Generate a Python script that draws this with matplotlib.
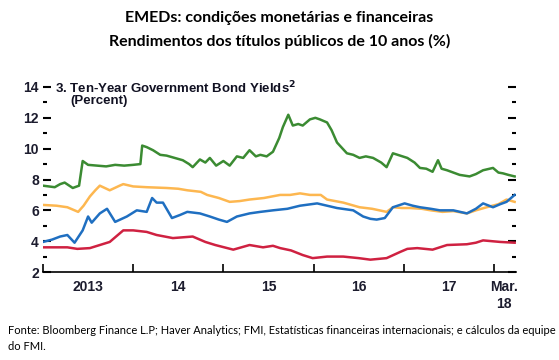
import matplotlib
matplotlib.use("Agg")
import matplotlib.pyplot as plt
from matplotlib.ticker import FixedLocator, NullFormatter, FixedFormatter

# decimal years and yields (percent)
green_t = [2013.00, 2013.13, 2013.19, 2013.24, 2013.33, 2013.40, 2013.44, 2013.50,
           2013.60, 2013.70, 2013.80, 2013.90, 2014.00, 2014.08, 2014.10, 2014.15,
           2014.22, 2014.30, 2014.37, 2014.46, 2014.55, 2014.62, 2014.66, 2014.74,
           2014.80, 2014.85, 2014.92, 2015.00, 2015.07, 2015.15, 2015.22, 2015.29,
           2015.36, 2015.41, 2015.48, 2015.55, 2015.62, 2015.66, 2015.72, 2015.77,
           2015.83, 2015.88, 2015.96, 2016.02, 2016.07, 2016.15, 2016.20, 2016.26,
           2016.37, 2016.44, 2016.51, 2016.58, 2016.66, 2016.75, 2016.81, 2016.88,
           2016.96, 2017.04, 2017.12, 2017.18, 2017.25, 2017.32, 2017.38, 2017.42,
           2017.48, 2017.55, 2017.62, 2017.73, 2017.80, 2017.88, 2017.99, 2018.05,
           2018.10, 2018.16, 2018.23]
green_v = [7.6, 7.5, 7.7, 7.8, 7.45, 7.6, 9.2, 8.95,
           8.9, 8.85, 8.95, 8.9, 8.95, 9.0, 10.2, 10.1,
           9.9, 9.6, 9.55, 9.4, 9.25, 9.0, 8.8, 9.3,
           9.1, 9.4, 8.9, 9.2, 8.9, 9.5, 9.4, 9.9,
           9.5, 9.6, 9.5, 9.8, 10.7, 11.4, 12.2, 11.5,
           11.6, 11.5, 11.9, 12.0, 11.9, 11.7, 11.2, 10.4,
           9.7, 9.6, 9.4, 9.5, 9.4, 9.1, 8.8, 9.7,
           9.55, 9.4, 9.1, 8.75, 8.7, 8.5, 9.25, 8.7,
           8.6, 8.45, 8.3, 8.2, 8.35, 8.6, 8.75, 8.45,
           8.4, 8.3, 8.2]

orange_t = [2013.00, 2013.15, 2013.27, 2013.39, 2013.45, 2013.52, 2013.58, 2013.63,
            2013.74, 2013.85, 2013.89, 2014.00, 2014.15, 2014.37, 2014.50, 2014.60,
            2014.75, 2014.82, 2014.95, 2015.07, 2015.18, 2015.29, 2015.45, 2015.63,
            2015.74, 2015.85, 2015.96, 2016.08, 2016.15, 2016.33, 2016.51, 2016.65,
            2016.81, 2016.88, 2016.98, 2017.07, 2017.20, 2017.30, 2017.43, 2017.55,
            2017.70, 2017.80, 2017.92, 2018.05, 2018.14, 2018.23]
orange_v = [6.35, 6.3, 6.2, 5.9, 6.3, 6.9, 7.3, 7.6,
            7.3, 7.6, 7.7, 7.55, 7.5, 7.45, 7.4, 7.3,
            7.2, 7.0, 6.8, 6.55, 6.6, 6.7, 6.8, 7.0,
            7.0, 7.1, 7.0, 7.0, 6.7, 6.5, 6.2, 6.1,
            5.9, 6.2, 6.15, 6.15, 6.1, 6.0, 5.9, 5.95,
            5.8, 6.0, 6.2, 6.4, 6.7, 6.55]

blue_t = [2013.00, 2013.10, 2013.19, 2013.27, 2013.35, 2013.44, 2013.50, 2013.54,
          2013.63, 2013.71, 2013.80, 2013.93, 2014.04, 2014.15, 2014.21, 2014.26,
          2014.33, 2014.43, 2014.52, 2014.60, 2014.74, 2014.85, 2014.95, 2015.04,
          2015.15, 2015.29, 2015.41, 2015.55, 2015.71, 2015.85, 2016.04, 2016.15,
          2016.26, 2016.44, 2016.55, 2016.63, 2016.70, 2016.79, 2016.88, 2017.01,
          2017.10, 2017.18, 2017.30, 2017.40, 2017.55, 2017.70, 2017.80, 2017.88,
          2017.99, 2018.07, 2018.14, 2018.23]
blue_v = [3.95, 4.1, 4.3, 4.4, 3.9, 4.7, 5.6, 5.2,
          5.8, 6.1, 5.25, 5.6, 6.0, 5.9, 6.8, 6.5,
          6.5, 5.5, 5.7, 5.9, 5.8, 5.6, 5.4, 5.25,
          5.6, 5.8, 5.9, 6.0, 6.1, 6.3, 6.45, 6.3,
          6.15, 6.0, 5.6, 5.45, 5.4, 5.5, 6.2, 6.45,
          6.3, 6.2, 6.1, 6.0, 6.0, 5.8, 6.1, 6.45,
          6.2, 6.4, 6.55, 7.0]

red_t = [2013.00, 2013.27, 2013.38, 2013.52, 2013.74, 2013.89, 2014.00, 2014.15,
         2014.26, 2014.44, 2014.66, 2014.80, 2014.91, 2015.11, 2015.29, 2015.44,
         2015.55, 2015.63, 2015.75, 2015.88, 2015.99, 2016.15, 2016.33, 2016.50,
         2016.63, 2016.81, 2016.96, 2017.04, 2017.15, 2017.32, 2017.48, 2017.70,
         2017.80, 2017.88, 2018.07, 2018.23]
red_v = [3.6, 3.6, 3.5, 3.55, 3.95, 4.7, 4.7, 4.6,
         4.4, 4.2, 4.3, 3.95, 3.75, 3.45, 3.75, 3.6,
         3.7, 3.55, 3.4, 3.1, 2.9, 3.0, 3.0, 2.9,
         2.8, 2.9, 3.3, 3.5, 3.55, 3.45, 3.75, 3.8,
         3.9, 4.05, 3.95, 3.9]

year_ticks = [2013, 2014, 2015, 2016, 2017, 2018]
year_label_pos = [2013.5, 2014.5, 2015.5, 2016.5, 2017.5, 2018.11]
year_labels = ["2013", "14", "15", "16", "17", "Mar.\n18"]

plt.rcParams['font.family'] = ['Liberation Sans', 'DejaVu Sans']

fig = plt.figure(figsize=(5.59, 3.6), dpi=100)
ax = fig.add_axes([43 / 559, 1 - 272 / 360, (516 - 43) / 559, (272 - 87) / 360])

lw = 1.8
ax.plot(green_t, green_v, color='#3b8b32', lw=lw)
ax.plot(orange_t, orange_v, color='#fdb750', lw=lw)
ax.plot(blue_t, blue_v, color='#1f6fc1', lw=lw)
ax.plot(red_t, red_v, color='#cf2141', lw=lw)

ax.set_xlim(2013.0, 2018.245)
ax.set_ylim(2, 14)

for s in ['top', 'left', 'right']:
    ax.spines[s].set_visible(False)
ax.spines['bottom'].set_linewidth(1.2)

tick_col = '#1c1c2e'
ax.xaxis.set_major_locator(FixedLocator(year_ticks))
ax.xaxis.set_major_formatter(NullFormatter())
ax.xaxis.set_minor_locator(FixedLocator(year_label_pos))
ax.xaxis.set_minor_formatter(FixedFormatter(year_labels))
ax.tick_params(axis='x', which='major', direction='in', length=6, width=1.2, color='black')
ax.tick_params(axis='x', which='minor', length=0, pad=6, labelsize=10, labelcolor=tick_col)
for lab in ax.xaxis.get_minorticklabels():
    lab.set_fontweight('bold')
    lab.set_va('top')

ax.set_yticks([2, 4, 6, 8, 10, 12, 14])
ax.set_yticks([3, 5, 7, 9, 11, 13], minor=True)
ax.tick_params(axis='y', which='major', direction='in', length=6, width=1.5,
               left=True, right=True, labelsize=10, labelcolor=tick_col, pad=3)
ax.tick_params(axis='y', which='minor', direction='in', length=3, width=1.5,
               left=True, right=True)
for lab in ax.get_yticklabels():
    lab.set_fontweight('bold')

ax.text(55 / 559, 1 - 88 / 360, "3. Ten-Year Government Bond Yields$^\\mathbf{2}$",
        transform=fig.transFigure, fontsize=9.5, fontweight='bold', color='#111122', va='center')
ax.text(70 / 559, 1 - 101 / 360, "(Percent)", transform=fig.transFigure,
        fontsize=9.5, fontweight='bold', color='#111122', va='center')

fig.text(0.5, 1 - 18 / 360, "EMEDs: condições monetárias e financeiras",
         ha='center', va='center', fontsize=11.5, fontweight='bold', family=['Lato', 'DejaVu Sans'])
fig.text(0.5, 1 - 41 / 360, "Rendimentos dos títulos públicos de 10 anos (%)",
         ha='center', va='center', fontsize=11.5, fontweight='bold', family=['Lato', 'DejaVu Sans'])

fig.text(8 / 559, 1 - 330 / 360,
         "Fonte: Bloomberg Finance L.P; Haver Analytics; FMI, Estatísticas financeiras internacionais; e cálculos da equipe",
         ha='left', va='center', fontsize=8, family=['Lato', 'DejaVu Sans'])
fig.text(8 / 559, 1 - 347 / 360, "do FMI.", ha='left', va='center', fontsize=8,
         family=['Lato', 'DejaVu Sans'])

fig.savefig("out.png", dpi=100)
